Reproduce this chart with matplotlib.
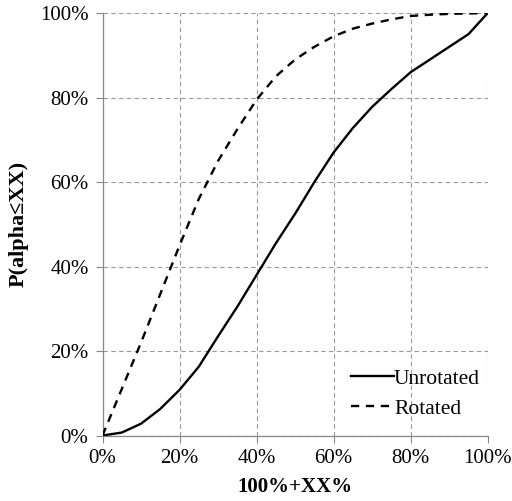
import matplotlib
matplotlib.use("Agg")
import matplotlib.pyplot as plt
from matplotlib.ticker import FuncFormatter

x_pct = [0, 5, 10, 15, 20, 25, 30, 35, 40, 45, 50, 55, 60, 65, 70, 75, 80, 85, 90, 95, 100]
unrotated = [0, 0.7, 2.8, 6.3, 10.8, 16.3, 23.5, 30.5, 38, 45.5, 52.5, 60, 67, 72.8, 77.8, 82, 86, 89, 92, 95, 100]
rotated = [0, 11, 22, 33.5, 45, 56, 65, 72.5, 79.5, 85, 89, 92, 94.5, 96.3, 97.5, 98.5, 99.3, 99.6, 99.8, 99.9, 100]
ticks = [0, 20, 40, 60, 80, 100]

plt.rcParams['font.family'] = ['Liberation Serif', 'DejaVu Serif']

fig = plt.figure(figsize=(5.12, 5.01), dpi=100)
ax = fig.add_axes([0.2002, 0.1307, 0.7524, 0.8433])

ax.plot(x_pct, unrotated, color='black', lw=1.7, label='Unrotated', zorder=3)
ax.plot(x_pct, rotated, color='black', lw=1.7, dashes=(3.5, 2.8), label='Rotated', zorder=3)

ax.set_xlim(0, 100)
ax.set_ylim(0, 100)
ax.set_xticks(ticks)
ax.set_yticks(ticks)
fmt = FuncFormatter(lambda v, p: f"{int(v)}%")
ax.xaxis.set_major_formatter(fmt)
ax.yaxis.set_major_formatter(fmt)
ax.tick_params(axis='both', labelsize=15, labelcolor='black', length=5, width=0.8,
               direction='out', pad=5, color='#888888')

ax.grid(True, color='#999999', ls=(0, (4, 3)), lw=0.8)
ax.set_axisbelow(True)
for s in ['top', 'right']:
    ax.spines[s].set_visible(False)
for s in ['left', 'bottom']:
    ax.spines[s].set_color('#888888')
    ax.spines[s].set_linewidth(0.9)

ax.set_xlabel('100%+XX%', fontsize=15, fontweight='bold', labelpad=6)
ax.set_ylabel('P(alpha\u2264XX)', fontsize=16, fontweight='bold', labelpad=8)

leg = ax.legend(loc='lower right', bbox_to_anchor=(0.98, 0.04), frameon=False, fontsize=15.5,
                handlelength=2.0, handletextpad=0.0, labelspacing=0.45, borderaxespad=0.0,
                borderpad=0.0)

fig.savefig('out.png', dpi=100)
